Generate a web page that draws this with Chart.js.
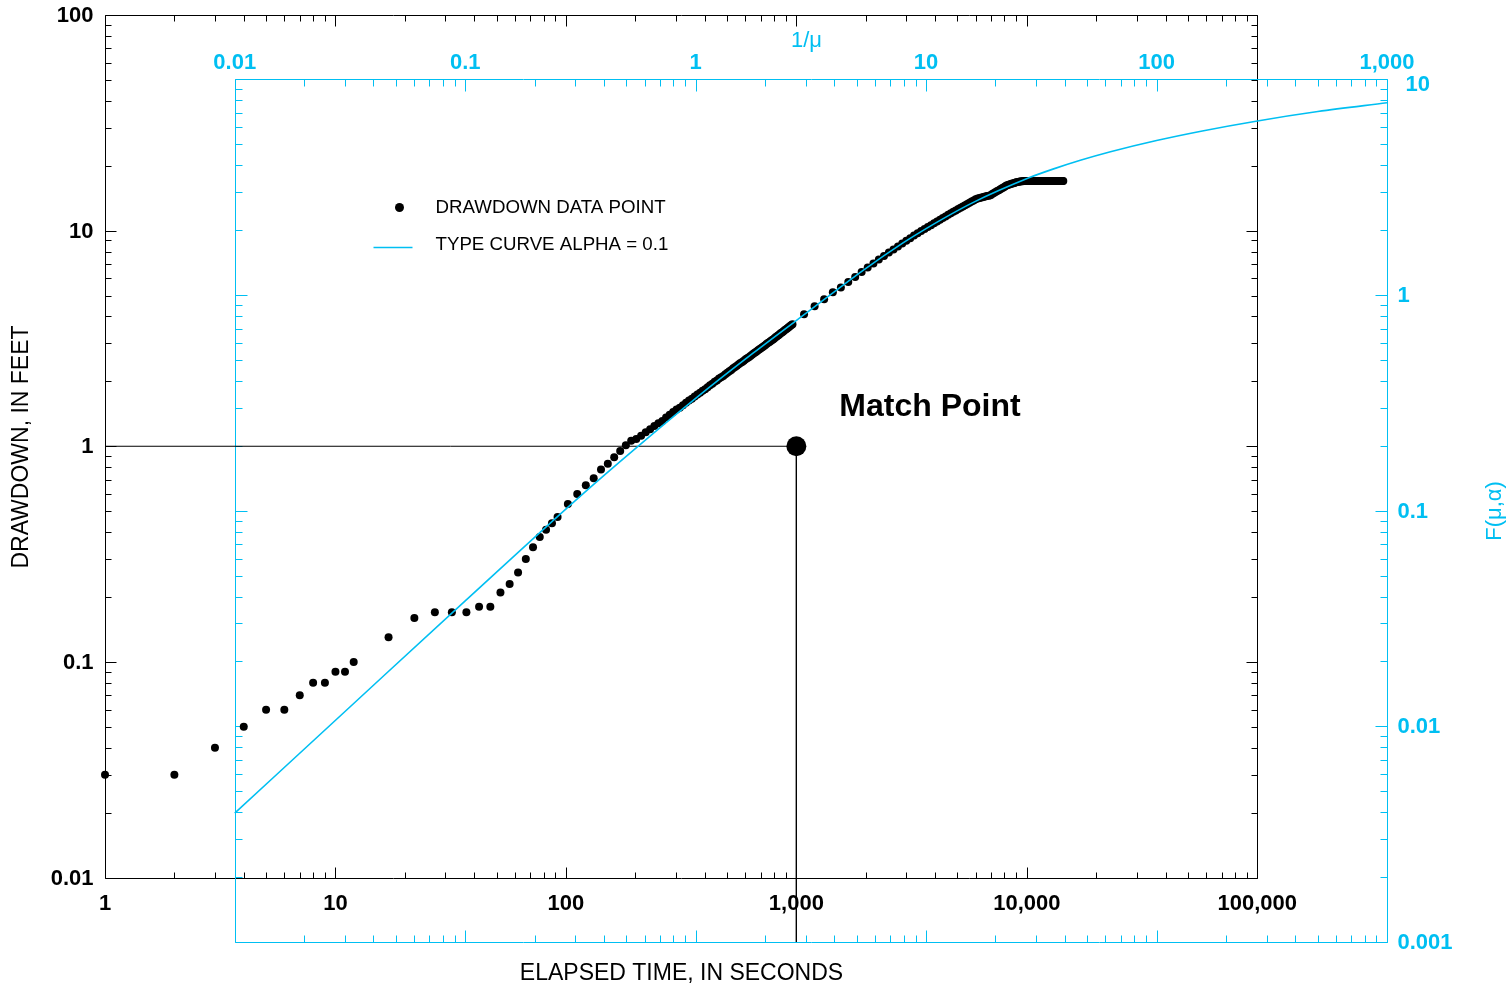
<!DOCTYPE html>
<html><head><meta charset="utf-8">
<script src="https://cdn.jsdelivr.net/npm/chart.js@4.4.1/dist/chart.umd.min.js"></script>
<style>html,body{margin:0;padding:0;background:#fff;overflow:hidden}#wrap{width:1511px;height:992px;position:relative}</style>
</head><body><div id="wrap"><canvas id="c"></canvas></div>
<script>
// ---------- DATA ----------
const earlyTime = [1,2,3,4,5,6,7,8,9,10,11,12,17,22,27,32,37,42,47,52,57,62,67,72,77,82,87,92];
const earlyDrawdown = [0.03,0.03,0.04,0.05,0.06,0.06,0.07,0.08,0.08,0.09,0.09,0.10,0.13,0.16,0.17,0.17,0.17,0.18,0.18,0.21,0.23,0.26,0.30,0.34,0.38,0.41,0.44,0.47];

const midTime = [102,112,122,132,142,152,162,172,182,192,202,212,222,232,242,252,262,272,282,292,302,312,322,332,342,352,362,372,382,392,402,412,422,432,442,452,462,472,482,492,502,512,522,532,542,552,562,572,582,592,602,612,622,632,642,652,662,672,682,692,702,712,722,732,742,752,762,772,782,792,802,812,822,832,842,852,862,872,882,892,902,912,922,932,942,952,962];
const midDrawdown = [0.54,0.60,0.66,0.71,0.78,0.83,0.89,0.95,1.01,1.06,1.08,1.12,1.16,1.20,1.24,1.28,1.31,1.36,1.40,1.44,1.48,1.51,1.55,1.59,1.63,1.66,1.70,1.74,1.77,1.81,1.84,1.88,1.92,1.95,1.99,2.02,2.06,2.09,2.12,2.16,2.19,2.23,2.26,2.30,2.33,2.36,2.40,2.43,2.46,2.49,2.53,2.56,2.59,2.62,2.66,2.69,2.72,2.75,2.79,2.82,2.85,2.88,2.91,2.94,2.98,3.01,3.04,3.07,3.10,3.13,3.16,3.20,3.23,3.26,3.29,3.33,3.36,3.39,3.42,3.46,3.49,3.52,3.55,3.58,3.62,3.65,3.68];

const lateTime = [1080,1200,1320,1440,1560,1680,1800,1920,2040,2160,2280,2400,2520,2640,2760,2880,3000,3120,3240,3360,3480,3600,3720,3840,3960,4080,4200,4320,4440,4560,4680,4800,4920,5040,5160,5280,5400,5520,5640,5760,5880,6000,6120,6240,6360,6480,6600,6720,6840,6960,7080,7200,7320,7440,7560,7680,7800,7920,8040,8160,8280,8400,8520,8640,8760,8880,9000,9120,9240,9360,9480,9600,9720,9840,9960,10080,10200,10320,10440,10560,10680,10800,10920,11040,11160,11280,11400,11520,11640,11760,11880,12000,12120,12240,12360,12480,12600,12720,12840,12960,13080,13200,13320,13440,13560,13680,13800,13920,14040,14160,14280,14400];
const lateDrawdown = [4.10,4.46,4.81,5.18,5.45,5.78,6.10,6.43,6.74,7.04,7.34,7.63,7.91,8.18,8.45,8.71,8.97,9.23,9.49,9.73,9.96,10.18,10.39,10.60,10.82,11.03,11.23,11.44,11.64,11.84,12.04,12.23,12.41,12.59,12.77,12.94,13.12,13.29,13.47,13.64,13.81,13.98,14.11,14.18,14.25,14.32,14.39,14.46,14.53,14.61,14.77,14.93,15.09,15.25,15.40,15.56,15.72,15.87,16.03,16.18,16.28,16.36,16.44,16.52,16.60,16.68,16.76,16.82,16.87,16.91,16.94,16.96,16.98,16.99,17.00,17.00,17.01,17.01,17.00,17.00,17.00,16.99,16.99,17.00,17.00,17.00,17.00,16.99,16.99,16.99,17.00,17.00,17.00,16.99,16.99,16.99,16.99,17.00,17.00,16.99,16.99,16.99,16.98,16.98,16.99,16.99,16.98,16.98,16.98,16.98,16.98,16.98];

// Type curve, alpha = 0.1 : 1/u vs F(u,alpha)
const curveInvU = [0.01, 0.0316, 0.1, 0.316, 0.562, 1, 1.78, 3.16, 5.33, 7.94, 10, 15.8, 28.3, 35.5, 46.7, 63.1, 100, 158, 274, 501, 1000];
const curveF    = [0.00396, 0.0123, 0.0382, 0.117, 0.199, 0.332, 0.539, 0.856, 1.302, 1.746, 2.035, 2.670, 3.516, 3.839, 4.220, 4.623, 5.212, 5.773, 6.423, 7.101, 7.80];

// Match point (time, drawdown)
const matchTime = 1000;
const matchDrawdown = 1;

// Axis ticks and labels
const timeTicks = [1,10,100,1000,10000,100000];
const timeLabels = ['1','10','100','1,000','10,000','100,000'];
const ddTicks = [0.01,0.1,1,10,100];
const ddLabels = ['0.01','0.1','1','10','100'];
const invUTicks = [0.01,0.1,1,10,100,1000];
const invULabels = ['0.01','0.1','1','10','100','1,000'];
const fTicks = [0.001,0.01,0.1,1,10];
const fLabels = ['0.001','0.01','0.1','1','10'];

// Offset (in decades) of the type-curve sheet relative to the data sheet
const shiftX = 0.563;
const shiftY = 0.299;

// ---------- STYLE ----------
const CYAN = '#00BFF2';
const FONT = '"Liberation Sans", Arial, Helvetica, sans-serif';

const times = earlyTime.concat(midTime, lateTime);
const drawdowns = earlyDrawdown.concat(midDrawdown, lateDrawdown);

const tMin = timeTicks[0], tMax = timeTicks[timeTicks.length-1] * Math.pow(10, shiftX);
const sMax = ddTicks[ddTicks.length-1], sMin = ddTicks[0] / Math.pow(10, shiftY);
const uMin = invUTicks[0] / Math.pow(10, shiftX), uMax = invUTicks[invUTicks.length-1];
const fMin = fTicks[0], fMax = fTicks[fTicks.length-1] * Math.pow(10, shiftY);

function withMinors(majors) {
  const out = [];
  for (let i = 0; i < majors.length; i++) {
    out.push({v: majors[i], major: true});
    if (i < majors.length - 1) for (let k = 2; k <= 9; k++) out.push({v: majors[i]*k, major: false});
  }
  return out;
}
const px = v => Math.round(v) + 0.5;

function drawFrame(ctx, xs, ys, xt, yt, color, maj, min) {
  const L = px(xs.getPixelForValue(xt[0])), R = px(xs.getPixelForValue(xt[xt.length-1]));
  const T = px(ys.getPixelForValue(yt[yt.length-1])), B = px(ys.getPixelForValue(yt[0]));
  ctx.save();
  ctx.strokeStyle = color; ctx.lineWidth = 1;
  ctx.beginPath();
  ctx.rect(L, T, R-L, B-T);
  for (const t of withMinors(xt)) {
    const x = px(xs.getPixelForValue(t.v)); const len = t.major ? maj : min;
    ctx.moveTo(x, B); ctx.lineTo(x, B-len);
    ctx.moveTo(x, T); ctx.lineTo(x, T+len);
  }
  for (const t of withMinors(yt)) {
    const y = px(ys.getPixelForValue(t.v)); const len = t.major ? maj : min;
    ctx.moveTo(L, y); ctx.lineTo(L+len, y);
    ctx.moveTo(R, y); ctx.lineTo(R-len, y);
  }
  ctx.stroke();
  ctx.restore();
  return {L, R, T, B};
}

const framePlugin = {
  id: 'frames',
  beforeDatasetsDraw(chart) {
    const ctx = chart.ctx, s = chart.scales;
    chart.$black = drawFrame(ctx, s.x, s.y, timeTicks, ddTicks, '#000', 11, 6);
    chart.$cyan = drawFrame(ctx, s.x2, s.y2, invUTicks, fTicks, CYAN, 12, 7);
  },
  afterDraw(chart) {
    const ctx = chart.ctx, s = chart.scales, b = chart.$black, c = chart.$cyan;
    ctx.save();
    // black tick labels
    ctx.fillStyle = '#000';
    ctx.font = 'bold 22px ' + FONT;
    ctx.textAlign = 'right'; ctx.textBaseline = 'middle';
    ddTicks.forEach((v,i) => ctx.fillText(ddLabels[i], b.L - 12, s.y.getPixelForValue(v) + 1));
    ctx.textAlign = 'center';
    timeTicks.forEach((v,i) => ctx.fillText(timeLabels[i], s.x.getPixelForValue(v), b.B + 25));
    // cyan tick labels
    ctx.fillStyle = CYAN;
    invUTicks.forEach((v,i) => ctx.fillText(invULabels[i], s.x2.getPixelForValue(v), c.T - 17));
    ctx.textAlign = 'left';
    fTicks.forEach((v,i) => {
      const top = (i === fTicks.length-1);
      ctx.fillText(fLabels[i], c.R + 10 + (top ? 8 : 0), s.y2.getPixelForValue(v) + (top ? 5 : 1));
    });
    // titles
    ctx.font = '23px ' + FONT;
    ctx.fillStyle = '#000';
    ctx.textAlign = 'center';
    ctx.fillText('ELAPSED TIME, IN SECONDS', (b.L + b.R)/2, c.B + 31);
    ctx.save(); ctx.translate(22, (b.T + b.B)/2); ctx.rotate(-Math.PI/2);
    ctx.fillText('DRAWDOWN, IN FEET', 0, 0); ctx.restore();
    ctx.font = '22px ' + FONT;
    ctx.fillStyle = CYAN;
    ctx.fillText('1/\u03bc', (c.L + c.R)/2 - 5, c.T - 39);
    ctx.save(); ctx.translate(1495, (c.T + c.B)/2); ctx.rotate(-Math.PI/2);
    ctx.fillText('F(\u03bc,\u03b1)', 0, 0); ctx.restore();
    // legend
    const lx = b.L + 268, ly = b.T + 192;
    ctx.fillStyle = '#000';
    ctx.beginPath(); ctx.arc(lx + 26, ly, 4.5, 0, Math.PI*2); ctx.fill();
    ctx.strokeStyle = CYAN; ctx.lineWidth = 1.5;
    ctx.beginPath(); ctx.moveTo(lx, ly + 40); ctx.lineTo(lx + 39, ly + 40); ctx.stroke();
    ctx.font = '18.7px ' + FONT; ctx.textAlign = 'left';
    ctx.fillText('DRAWDOWN DATA POINT', lx + 62, ly);
    ctx.fillText('TYPE CURVE ALPHA = 0.1', lx + 62, ly + 37);
    // match point label
    ctx.font = 'bold 32px ' + FONT;
    ctx.fillText('Match Point', s.x.getPixelForValue(matchTime) + 43, s.y.getPixelForValue(matchDrawdown) - 39);
    ctx.restore();
  }
};

new Chart(document.getElementById('c'), {
  type: 'scatter',
  data: {
    datasets: [
      { label: 'TYPE CURVE ALPHA = 0.1', data: curveInvU.map((u,i)=>({x:u, y:curveF[i]})),
        xAxisID:'x2', yAxisID:'y2', showLine:true, borderColor:CYAN, borderWidth:1.6,
        pointRadius:0, cubicInterpolationMode:'monotone', order:0 },
      { label: 'DRAWDOWN DATA POINT', data: times.map((t,i)=>({x:t, y:drawdowns[i]})),
        xAxisID:'x', yAxisID:'y', pointRadius:4, pointBackgroundColor:'#000', pointBorderWidth:0,
        pointHoverRadius:4, clip:false, order:2 },
      { label: 'match lines', data: [{x:tMin, y:matchDrawdown},{x:matchTime, y:matchDrawdown},{x:matchTime, y:sMin}],
        xAxisID:'x', yAxisID:'y', showLine:true, borderColor:'#000', borderWidth:1, pointRadius:0, order:3 },
      { label: 'match point', data: [{x:matchTime, y:matchDrawdown}],
        xAxisID:'x', yAxisID:'y', pointRadius:10, pointBackgroundColor:'#000', pointBorderWidth:0, order:1 }
    ]
  },
  options: {
    responsive: true, maintainAspectRatio: false, animation: false,
    layout: { padding: { left: 105, top: 15, right: 124, bottom: 50 } },
    plugins: { legend: { display:false }, tooltip: { enabled:false }, title: {display:false} },
    events: [],
    scales: {
      x:  { type:'logarithmic', min:tMin, max:tMax, display:false },
      y:  { type:'logarithmic', min:sMin, max:sMax, display:false },
      x2: { type:'logarithmic', min:uMin, max:uMax, display:false, position:'top' },
      y2: { type:'logarithmic', min:fMin, max:fMax, display:false, position:'right' }
    }
  },
  plugins: [framePlugin]
});
</script></body></html>
